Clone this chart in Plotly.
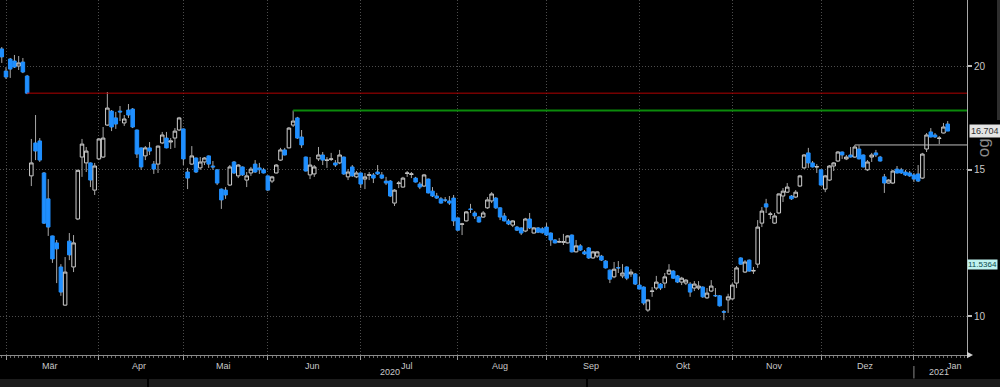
import numpy as np
import pandas as pd
import plotly.graph_objects as go

# ---------------- data ----------------
opens = [
    20.97, 19.72, 20.39, 20.28, 20.00, 20.22, 19.45, 14.75, 16.16, 16.25,
    14.87, 13.84, 12.49, 12.25, 11.46, 10.31, 12.31, 11.46, 13.09, 15.54,
    15.29, 15.29, 14.18, 15.46, 15.54, 16.98, 17.65, 17.32, 17.65, 17.08,
    17.70, 17.75, 16.75, 15.94, 15.59, 15.94, 15.24, 15.24, 16.16, 16.38,
    16.20, 16.38, 16.75, 16.80, 14.91, 15.24, 15.50, 15.08, 15.33, 15.59,
    15.16, 15.00, 14.22, 14.18, 14.38, 15.33, 14.75, 15.12, 14.58, 14.87,
    15.24, 15.08, 15.00, 14.75, 14.54, 14.87, 15.41, 15.85, 15.94, 16.98,
    17.32, 16.43, 15.54, 14.79, 14.83, 15.46, 15.63, 15.40, 15.44, 15.29,
    15.29, 15.54, 14.71, 15.12, 14.71, 14.87, 14.62, 14.78, 14.79, 14.91,
    14.79, 14.54, 14.54, 13.68, 14.44, 14.30, 14.85, 14.81, 14.66, 14.42,
    14.34, 14.62, 14.14, 13.95, 13.84, 13.80, 13.76, 13.87, 13.13, 12.90,
    13.02, 13.46, 13.31, 13.16, 13.16, 13.50, 13.76, 13.87, 13.50, 13.20,
    13.02, 12.87, 12.80, 12.77, 12.66, 13.09, 12.59, 12.77, 12.74, 12.80,
    12.59, 12.35, 12.28, 12.27, 12.25, 12.52, 11.95, 12.15, 11.95, 12.08,
    11.75, 11.81, 11.81, 11.65, 11.36, 11.15, 11.44, 11.18, 11.46, 11.24,
    11.24, 10.90, 10.84, 10.17, 10.71, 10.81, 10.93, 10.96, 11.24, 11.33,
    11.18, 10.99, 10.96, 10.93, 10.81, 10.81, 10.84, 10.52, 10.72, 10.59,
    10.58, 10.13, 10.46, 10.49, 10.96, 11.75, 11.30, 11.68, 11.33, 11.55,
    12.94, 13.65, 13.26, 12.94, 13.31, 13.95, 14.10, 13.95, 13.91, 14.34,
    15.08, 15.72, 15.29, 15.12, 15.00, 14.22, 14.58, 15.16, 15.37, 15.76,
    15.46, 15.63, 15.54, 15.89, 15.63, 15.00, 15.54, 15.72, 15.54, 14.71,
    14.46, 14.46, 15.03, 15.00, 14.91, 14.87, 14.79, 14.83, 14.66, 15.89,
    16.66, 16.52, 16.36, 16.61, 17.03,
]
highs = [
    21.08, 19.94, 20.45, 20.62, 20.56, 20.45, 19.51, 16.34, 17.46, 16.38,
    14.91, 14.62, 12.50, 12.35, 11.55, 11.78, 12.59, 12.52, 15.00, 16.34,
    15.98, 15.31, 15.29, 16.38, 16.89, 18.61, 17.70, 17.61, 17.90, 17.46,
    18.00, 17.80, 16.77, 15.96, 16.02, 16.20, 15.37, 16.04, 16.66, 16.66,
    16.38, 16.84, 17.37, 16.82, 15.08, 16.02, 15.52, 15.54, 15.54, 15.61,
    15.37, 15.02, 14.24, 14.30, 15.20, 15.37, 15.24, 15.14, 14.91, 15.12,
    15.41, 15.29, 15.08, 14.77, 14.75, 15.24, 15.94, 15.94, 16.89, 17.68,
    17.37, 16.75, 15.56, 15.54, 15.20, 15.98, 15.76, 15.54, 15.72, 15.41,
    15.85, 15.56, 15.03, 15.20, 14.95, 14.89, 14.87, 14.91, 14.87, 15.20,
    14.91, 14.71, 14.58, 14.22, 14.54, 14.71, 14.95, 14.91, 14.71, 14.50,
    14.83, 14.64, 14.30, 14.07, 13.91, 13.91, 13.95, 13.99, 13.15, 12.95,
    13.38, 13.65, 13.38, 13.20, 13.38, 13.91, 14.10, 13.91, 13.52, 13.31,
    13.09, 13.05, 12.84, 12.79, 13.13, 13.31, 12.80, 12.80, 12.80, 12.94,
    12.61, 12.38, 12.42, 12.56, 12.52, 12.54, 12.35, 12.21, 12.01, 12.11,
    11.98, 11.98, 11.85, 11.68, 11.38, 11.62, 11.65, 11.55, 11.48, 11.39,
    11.27, 11.15, 10.86, 10.47, 10.84, 11.18, 10.96, 11.27, 11.55, 11.36,
    11.21, 11.15, 11.08, 10.99, 11.02, 11.02, 10.86, 10.81, 11.05, 10.81,
    10.60, 10.17, 10.64, 10.96, 11.49, 11.77, 11.68, 11.70, 11.46, 13.05,
    13.53, 13.84, 13.35, 13.31, 14.05, 14.26, 14.46, 13.99, 14.18, 14.79,
    15.67, 15.94, 15.37, 15.24, 15.02, 14.79, 15.20, 15.33, 15.80, 15.78,
    15.63, 15.98, 16.07, 16.05, 15.65, 15.41, 15.72, 15.85, 15.59, 14.83,
    14.62, 15.00, 15.16, 15.08, 15.00, 14.95, 14.87, 15.20, 15.72, 16.61,
    16.84, 16.61, 16.47, 17.08, 17.17,
]
lows = [
    20.17, 19.29, 19.35, 19.89, 19.78, 19.61, 18.50, 14.34, 15.41, 15.33,
    12.91, 12.49, 11.59, 10.96, 10.58, 10.29, 11.68, 11.30, 13.05, 14.71,
    14.91, 14.30, 13.99, 15.41, 15.50, 16.94, 16.70, 16.80, 17.17, 16.94,
    17.32, 16.84, 15.50, 15.00, 15.41, 15.63, 14.83, 14.87, 16.11, 15.92,
    15.89, 15.94, 16.70, 15.20, 14.22, 15.20, 14.87, 15.00, 15.20, 15.08,
    15.00, 14.38, 13.46, 13.84, 14.34, 14.83, 14.66, 14.75, 14.30, 14.75,
    14.87, 14.83, 14.85, 14.14, 14.46, 14.85, 15.37, 15.61, 15.92, 16.89,
    16.34, 15.94, 14.93, 14.62, 14.71, 15.37, 15.20, 15.08, 15.37, 15.12,
    15.24, 14.79, 14.58, 14.71, 14.66, 14.26, 14.22, 14.58, 14.46, 14.79,
    14.62, 14.38, 13.91, 13.57, 14.26, 14.28, 14.71, 14.66, 14.48, 14.22,
    14.30, 14.05, 13.91, 13.84, 13.66, 13.72, 13.61, 12.84, 12.67, 12.52,
    13.00, 13.31, 13.09, 12.96, 13.13, 13.46, 13.68, 13.46, 13.05, 13.00,
    12.87, 12.80, 12.66, 12.52, 12.62, 12.73, 12.57, 12.59, 12.57, 12.49,
    12.15, 12.23, 12.25, 12.18, 12.23, 11.93, 11.93, 11.98, 11.85, 11.72,
    11.72, 11.75, 11.65, 11.41, 10.96, 11.11, 11.27, 11.11, 11.05, 11.15,
    10.90, 10.77, 10.31, 10.12, 10.55, 10.75, 10.75, 10.81, 11.21, 11.09,
    10.96, 10.90, 10.90, 10.55, 10.72, 10.75, 10.52, 10.49, 10.69, 10.55,
    10.27, 9.89, 10.09, 10.46, 10.81, 11.53, 11.27, 11.31, 11.24, 11.43,
    12.80, 13.31, 13.09, 12.91, 13.27, 13.72, 14.07, 13.80, 13.87, 14.30,
    15.03, 15.08, 15.10, 14.87, 14.36, 14.10, 14.54, 14.95, 15.33, 15.46,
    15.41, 15.52, 15.50, 15.44, 15.10, 14.95, 15.33, 15.54, 15.35, 14.07,
    14.44, 14.42, 14.85, 14.83, 14.75, 14.71, 14.50, 14.50, 14.62, 15.76,
    16.41, 16.38, 16.11, 16.59, 16.70,
]
closes = [
    20.51, 19.40, 19.83, 19.94, 20.17, 19.67, 18.55, 15.29, 15.80, 15.41,
    12.94, 12.80, 11.72, 12.05, 10.69, 11.30, 11.85, 12.25, 14.98, 16.11,
    15.80, 14.58, 15.16, 16.34, 16.38, 17.80, 16.89, 17.03, 17.61, 17.27,
    17.46, 16.89, 15.67, 15.12, 15.94, 15.80, 15.03, 16.02, 16.52, 15.94,
    16.25, 16.70, 17.32, 15.46, 14.66, 15.59, 14.91, 15.33, 15.50, 15.24,
    15.12, 14.46, 13.80, 13.99, 15.12, 14.87, 15.20, 14.79, 14.75, 15.03,
    14.91, 15.00, 14.87, 14.18, 14.71, 15.20, 15.85, 15.63, 16.84, 17.17,
    16.38, 16.07, 14.95, 15.20, 15.12, 15.63, 15.41, 15.41, 15.46, 15.20,
    15.63, 14.83, 14.91, 14.75, 14.87, 14.42, 14.71, 14.79, 14.66, 14.83,
    14.66, 14.46, 13.95, 14.18, 14.46, 14.66, 14.87, 14.83, 14.50, 14.30,
    14.79, 14.07, 13.95, 13.87, 13.68, 13.79, 13.68, 13.02, 12.69, 12.91,
    13.35, 13.44, 13.20, 12.98, 13.31, 13.80, 14.03, 13.50, 13.16, 13.02,
    12.91, 13.02, 12.69, 12.59, 13.09, 12.77, 12.77, 12.62, 12.60, 12.52,
    12.35, 12.25, 12.29, 12.29, 12.49, 11.95, 12.15, 12.01, 11.88, 11.75,
    11.95, 11.95, 11.68, 11.43, 11.08, 11.39, 11.43, 11.27, 11.11, 11.30,
    10.93, 10.78, 10.37, 10.46, 10.72, 10.99, 10.81, 11.15, 11.36, 11.11,
    10.99, 11.11, 11.05, 10.69, 10.93, 10.87, 10.55, 10.66, 10.87, 10.58,
    10.29, 10.11, 10.55, 10.90, 11.43, 11.55, 11.62, 11.33, 11.35, 12.80,
    13.38, 13.53, 13.27, 13.20, 14.03, 14.14, 14.30, 13.84, 14.10, 14.75,
    15.63, 15.29, 15.12, 15.13, 14.38, 14.75, 15.16, 15.29, 15.76, 15.63,
    15.54, 15.54, 15.98, 15.46, 15.12, 15.33, 15.63, 15.63, 15.37, 14.46,
    14.58, 14.95, 14.87, 14.87, 14.79, 14.75, 14.62, 14.54, 15.67, 16.52,
    16.43, 16.43, 16.38, 16.89, 16.70,
]

holidays = ["2020-04-10", "2020-04-13", "2020-05-01", "2020-12-25", "2021-01-01"]
month_labels = ["Mär", "Apr", "Mai", "Jun", "Jul", "Aug", "Sep", "Okt", "Nov", "Dez", "Jan"]
year_labels = ["2020", "2021"]
year_label_dates = ["2020-07-10", "2021-01-12"]
year_sep_date = "2021-01-04"

level_values = [18.55, 17.68, 16.07]
level_start_dates = ["2020-03-09", "2020-06-09", "2020-12-11"]
level_colors = ["#b00000", "#0b8a0b", "#bdbdbd"]
level_widths = [1, 2, 1]

last_price_label = 16.704
side_value_label = 11.5364
y_ticks = [10, 15, 20]

# ---------------- calendar / positions ----------------
cal = pd.bdate_range("2020-02-28", "2021-01-29")
cal = cal[~cal.isin(pd.to_datetime(holidays))]
n = len(closes)
x = np.arange(n)
pos = {d.strftime("%Y-%m-%d"): i for i, d in enumerate(cal)}

periods = cal.to_period("M")
uniq = list(periods.unique())[1:]  # first month (Feb) is not labelled
month_starts, month_mids = [], []
for p in uniq:
    ii = np.where(periods == p)[0]
    month_starts.append(int(ii[0]))
    month_mids.append((ii[0] + ii[-1]) / 2.0)

X0, X1 = -0.42, 228.57
Y0, Y1 = 0.95326, 1.38045

BLUE = "#1f8fff"
HOLLOW = "#cfcfcf"
WICK = "#a8a8a8"
GRID = "#4c4c4c"
GRIDDASH = "1px,2px"
TXT = "#c8c8c8"
FONT = "Liberation Sans"

o = np.array(opens); c = np.array(closes)
body_hi = np.maximum(o, c)
body_lo = np.minimum(o, c)

fig = go.Figure()

# wicks (outside the body only)
wx, wy = [], []
for i in range(n):
    wx += [i, i, None, i, i, None]
    wy += [lows[i], body_lo[i], None, body_hi[i], highs[i], None]
fig.add_trace(go.Scatter(x=wx, y=wy, mode="lines", line=dict(color=WICK, width=1),
                         hoverinfo="skip", showlegend=False))

# bodies
fig.add_trace(go.Candlestick(
    x=x, open=opens, close=closes, high=body_hi, low=body_lo,
    increasing=dict(line=dict(color=HOLLOW, width=1), fillcolor="#000000"),
    decreasing=dict(line=dict(color=BLUE, width=1), fillcolor=BLUE),
    whiskerwidth=0, showlegend=False))

# horizontal levels
for v, sd, col, w in zip(level_values, level_start_dates, level_colors, level_widths):
    fig.add_trace(go.Scatter(x=[pos[sd], X1], y=[v, v], mode="lines",
                             line=dict(color=col, width=w), hoverinfo="skip", showlegend=False))

ann = []
for lab, m in zip(month_labels, month_mids):
    ann.append(dict(x=m, y=-0.012, xref="x", yref="paper", text=lab, showarrow=False,
                    xanchor="center", yanchor="top", font=dict(family=FONT, size=9, color=TXT)))
for lab, d in zip(year_labels, year_label_dates):
    ann.append(dict(x=pos[d], y=-0.048, xref="x", yref="paper", text=lab, showarrow=False,
                    xanchor="center", yanchor="middle", font=dict(family=FONT, size=9, color=TXT)))
ann.append(dict(x=1.0, xshift=2, y=np.log10(last_price_label), xref="paper", yref="y",
                text=f"{last_price_label:.3f}", showarrow=False, xanchor="left", yanchor="middle",
                bgcolor="#e4e4e4", borderpad=1, font=dict(family=FONT, size=9, color="#303030")))
ann.append(dict(x=1.0, xshift=0, y=np.log10(side_value_label), xref="paper", yref="y",
                text=f"{side_value_label:.4f}", showarrow=False, xanchor="left", yanchor="middle",
                bgcolor="#bff3f0", borderpad=0, font=dict(family=FONT, size=8, color="#0c4a4a")))
ann.append(dict(x=1.0165, y=0.585, xref="paper", yref="paper", text="og", showarrow=False,
                textangle=-90, xanchor="center", yanchor="middle",
                font=dict(family=FONT, size=17, color="#8c8c8c")))

shapes = [
    # bottom scroll strip
    dict(type="rect", xref="paper", yref="paper", x0=0, x1=1.04, y0=-0.0676, y1=-0.0905,
         fillcolor="#1c1c1c", line=dict(width=0), layer="below"),
    dict(type="line", xref="paper", yref="paper", x0=148 / 967, x1=148 / 967, y0=-0.0676, y1=-0.0905,
         line=dict(color="#000000", width=2)),
    dict(type="line", xref="paper", yref="paper", x0=587 / 967, x1=587 / 967, y0=-0.0676, y1=-0.0905,
         line=dict(color="#000000", width=2)),
    # right edge strip
    dict(type="rect", xref="paper", yref="paper", x0=997 / 967, x1=1.04, y0=1.0, y1=0.662,
         fillcolor="#2e2e2e", line=dict(width=0)),
    # year separator
    dict(type="line", xref="x", yref="paper", x0=pos[year_sep_date], x1=pos[year_sep_date],
         y0=-0.031, y1=-0.066, line=dict(color="#8a8a8a", width=1)),
    # axis end arrow
    dict(type="path", xref="paper", yref="paper",
         path=f"M 1.0 0.009 L {1 + 6 / 967} 0 L 1.0 -0.009 Z",
         fillcolor="#d0d0d0", line=dict(width=0)),
]

fig.update_layout(
    width=1000, height=387,
    margin=dict(l=0, r=33, t=0, b=32),
    paper_bgcolor="#000000", plot_bgcolor="#000000",
    showlegend=False,
    boxgap=0.12, boxgroupgap=0.05,
    annotations=ann, shapes=shapes,
    xaxis=dict(range=[X0, X1], tickmode="array", tickvals=month_starts, showticklabels=False,
               showgrid=True, gridcolor=GRID, griddash=GRIDDASH, gridwidth=1, zeroline=False,
               showline=True, linecolor="#8c8c8c", linewidth=1,
               ticks="outside", ticklen=4, tickcolor="#9a9a9a",
               minor=dict(tickmode="linear", tick0=0, dtick=1, ticks="outside", ticklen=2,
                          tickcolor="#6a6a6a", showgrid=False),
               rangeslider=dict(visible=False), fixedrange=True),
    yaxis=dict(type="log", range=[Y0, Y1], side="right", tickmode="array", tickvals=y_ticks,
               ticktext=[str(t) for t in y_ticks],
               showgrid=True, gridcolor=GRID, griddash=GRIDDASH, gridwidth=1, zeroline=False,
               showline=True, linecolor="#a8a8a8", linewidth=1,
               ticks="outside", ticklen=4, tickwidth=2, tickcolor="#bdbdbd",
               tickfont=dict(family=FONT, size=10, color=TXT), fixedrange=True),
)

fig.write_html(
    "out.html",
    config={"displayModeBar": False},
    post_script="document.body.style.margin='0px';document.body.style.background='#000';",
)
